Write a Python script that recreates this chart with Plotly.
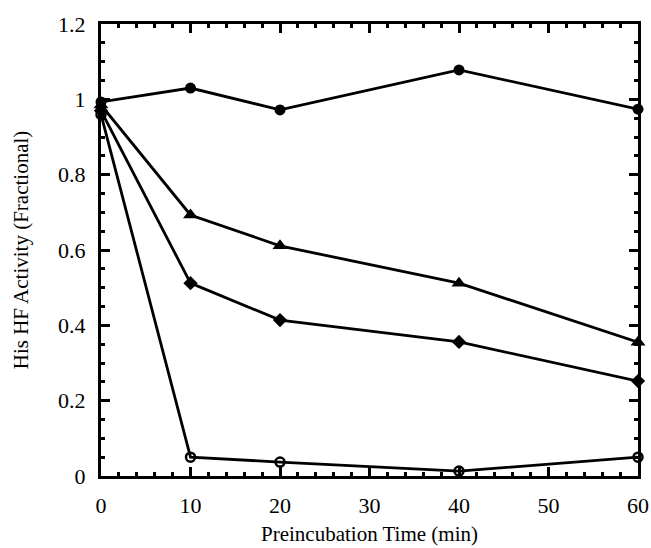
import plotly.graph_objects as go

time_min = [0, 10, 20, 40, 60]
filled_circle = [0.993, 1.03, 0.972, 1.078, 0.974]
triangle = [0.985, 0.693, 0.611, 0.512, 0.355]
diamond = [0.97, 0.512, 0.414, 0.356, 0.252]
open_circle = [0.96, 0.050, 0.037, 0.013, 0.050]

series = [
    (filled_circle, dict(symbol="circle", size=11, color="black")),
    (triangle, dict(symbol="triangle-up", size=13, color="black")),
    (diamond, dict(symbol="diamond", size=11, color="black")),
    (open_circle, dict(symbol="circle-open", size=9, color="black", line=dict(width=2.5, color="black"))),
]

fig = go.Figure()
for ys, mk in series:
    fig.add_trace(go.Scatter(x=time_min, y=ys, mode="lines+markers",
                             line=dict(color="black", width=2.8), marker=mk,
                             showlegend=False, cliponaxis=False))

font = dict(family="Liberation Serif, Times New Roman, serif", color="black")
axis_common = dict(showline=True, linecolor="black", linewidth=3, mirror="ticks",
                   ticks="inside", ticklen=9, tickwidth=2.5, tickcolor="black",
                   showgrid=False, zeroline=False, ticklabelstandoff=8,
                   automargin=False,
                   tickfont=dict(size=22, **font))
fig.update_xaxes(range=[0, 60], dtick=10, tick0=0,
                 minor=dict(dtick=2, ticks="inside", ticklen=4, tickwidth=2.5, tickcolor="black"),
                 title=dict(text="Preincubation Time (min)", font=dict(size=21, **font), standoff=9),
                 **axis_common)
fig.update_yaxes(range=[0, 1.2], dtick=0.2, tick0=0,
                 minor=dict(dtick=0.05, ticks="inside", ticklen=4, tickwidth=2.5, tickcolor="black"),
                 title=dict(text="His HF Activity (Fractional)", font=dict(size=21, **font), standoff=24),
                 **axis_common)
fig.update_layout(width=651, height=548, margin=dict(l=101, r=13, t=24, b=72, autoexpand=False),
                  plot_bgcolor="white", paper_bgcolor="white")

post = """
document.documentElement.style.margin='0';
document.documentElement.style.overflow='hidden';
document.body.style.margin='0';
document.body.style.overflow='hidden';
var gd = document.getElementsByClassName('plotly-graph-div')[0];
if (gd) { gd.style.display='block'; if (gd.parentElement) { gd.parentElement.style.display='block'; gd.parentElement.style.lineHeight='0'; } }
"""
fig.write_html("out.html", config={"displayModeBar": False}, post_script=post)
